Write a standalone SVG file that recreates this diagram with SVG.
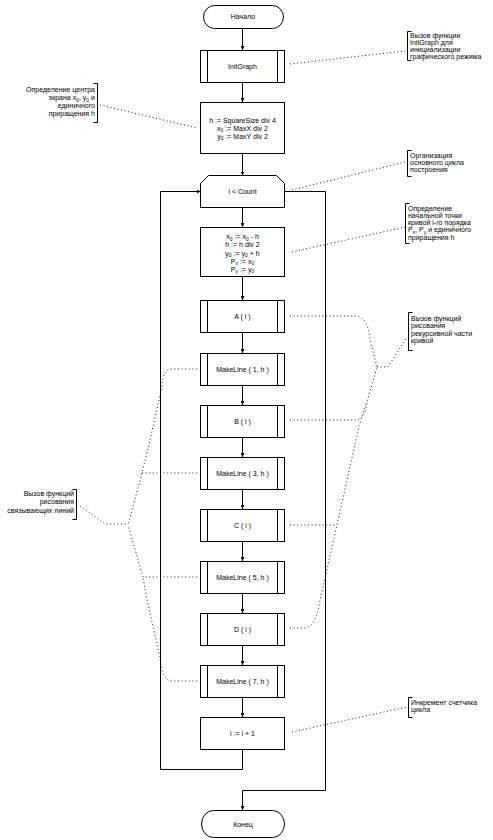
<svg xmlns="http://www.w3.org/2000/svg" width="493" height="840" viewBox="0 0 493 840">
<style>
.bg{fill:#fff}
.n{fill:#fff;stroke:#000;stroke-width:1}
.ln{fill:none;stroke:#000;stroke-width:1}
.dt{fill:none;stroke:#000;stroke-width:0.9;stroke-dasharray:1 2.6}
.br{fill:none;stroke:#000;stroke-width:1}
text{font-family:"Liberation Sans",Arial,sans-serif;font-size:7px;fill:#000}
.c{text-anchor:middle}
.e{text-anchor:end}
.s{font-size:5px}
</style>
<defs>
<marker id="ah" markerWidth="4" markerHeight="4" refX="4" refY="2" orient="auto" markerUnits="userSpaceOnUse">
<path d="M0,0 L4,2 L0,4 Z" fill="#000"/>
</marker>
</defs>
<rect class="bg" x="0" y="0" width="493" height="840"/>

<g id="connectors">
<path class="ln" marker-end="url(#ah)" d="M242.5,28 V50"/>
<path class="ln" marker-end="url(#ah)" d="M242.5,82 V102"/>
<path class="ln" marker-end="url(#ah)" d="M242.5,153 V175.5"/>
<path class="ln" marker-end="url(#ah)" d="M242.5,207.5 V227"/>
<path class="ln" marker-end="url(#ah)" d="M242.5,276 V300"/>
<path class="ln" marker-end="url(#ah)" d="M242.5,332 V353"/>
<path class="ln" marker-end="url(#ah)" d="M242.5,385 V405"/>
<path class="ln" marker-end="url(#ah)" d="M242.5,437 V457"/>
<path class="ln" marker-end="url(#ah)" d="M242.5,489 V509"/>
<path class="ln" marker-end="url(#ah)" d="M242.5,541 V561"/>
<path class="ln" marker-end="url(#ah)" d="M242.5,593 V613"/>
<path class="ln" marker-end="url(#ah)" d="M242.5,645 V665"/>
<path class="ln" marker-end="url(#ah)" d="M242.5,697 V717"/>
<path class="ln" marker-end="url(#ah)" d="M242.5,749 V769.5 H160.5 V191.5 H200.5"/>
<path class="ln" marker-end="url(#ah)" d="M284.5,191.5 H325.5 V790.5 H242.5 V810"/>
</g>

<g id="annotation-links">
<path class="dt" d="M290,64 L405,51"/>
<path class="dt" d="M100,105 L197,128"/>
<path class="dt" d="M292,190 L405,162"/>
<path class="dt" d="M292,252 L405,227"/>
<path class="dt" d="M290,316 H355 Q368,316 370,340 L377,367"/>
<path class="dt" d="M290,420 H355 Q365,420 367,402 L377,367"/>
<path class="dt" d="M290,525 H337"/>
<path class="dt" d="M290,628 H305 Q316,626 319,605 L356,440 Q360,420 367,402"/>
<path class="dt" d="M377,367 H388 L407,337"/>
<path class="dt" d="M197,369 H171 Q163,369 162,387 L150,440 L142,473 L128,525"/>
<path class="dt" d="M197,473 H142"/>
<path class="dt" d="M197,577 H143 L128,525"/>
<path class="dt" d="M197,681 H172 Q162,681 160,657 L147,600 L143,577"/>
<path class="dt" d="M80,506 L105,524 H128"/>
<path class="dt" d="M292,732 L407,707"/>
</g>

<g id="start">
<rect class="n" x="203.5" y="5.5" width="80" height="23" rx="11" ry="11.5"/>
<text class="c" x="243" y="19">Начало</text>
</g>

<g id="initgraph">
<rect class="n" x="200.5" y="50.5" width="84" height="32"/>
<path class="ln" d="M207.5,50.5 V82.5 M277.5,50.5 V82.5"/>
<text class="c" x="242.5" y="69">InitGraph</text>
</g>

<g id="init-center">
<rect class="n" x="200.5" y="102.5" width="84" height="51"/>
<text class="c" x="242.5" y="122.5">h := SquareSize div 4</text>
<text class="c" x="242.5" y="130.5">x<tspan class="s" dy="1.5">0</tspan><tspan dy="-1.5"> := MaxX div 2</tspan></text>
<text class="c" x="242.5" y="138.5">y<tspan class="s" dy="1.5">0</tspan><tspan dy="-1.5"> := MaxY div 2</tspan></text>
</g>

<g id="loop">
<path class="n" d="M200.5,183.5 L208.5,175.5 H276.5 L284.5,183.5 V207.5 H200.5 Z"/>
<text class="c" x="242.5" y="194">i &lt; Count</text>
</g>

<g id="init-start">
<rect class="n" x="200.5" y="227.5" width="84" height="49"/>
<text class="c" x="242.5" y="239">x<tspan class="s" dy="1.5">0</tspan><tspan dy="-1.5"> := x</tspan><tspan class="s" dy="1.5">0</tspan><tspan dy="-1.5"> - h</tspan></text>
<text class="c" x="242.5" y="247">h := h div 2</text>
<text class="c" x="242.5" y="255.5">y<tspan class="s" dy="1.5">0</tspan><tspan dy="-1.5"> := y</tspan><tspan class="s" dy="1.5">0</tspan><tspan dy="-1.5"> + h</tspan></text>
<text class="c" x="242.5" y="263.5">P<tspan class="s" dy="1.5">x</tspan><tspan dy="-1.5"> := x</tspan><tspan class="s" dy="1.5">0</tspan></text>
<text class="c" x="242.5" y="271.5">P<tspan class="s" dy="1.5">y</tspan><tspan dy="-1.5"> := y</tspan><tspan class="s" dy="1.5">0</tspan></text>
</g>

<g id="call-a">
<rect class="n" x="200.5" y="300.5" width="84" height="32"/>
<path class="ln" d="M207.5,300.5 V332.5 M277.5,300.5 V332.5"/>
<text class="c" x="242.5" y="319">A ( i )</text>
</g>
<g id="makeline-1">
<rect class="n" x="200.5" y="353.5" width="84" height="32"/>
<path class="ln" d="M207.5,353.5 V385.5 M277.5,353.5 V385.5"/>
<text class="c" x="242.5" y="372">MakeLine ( 1, h )</text>
</g>
<g id="call-b">
<rect class="n" x="200.5" y="405.5" width="84" height="32"/>
<path class="ln" d="M207.5,405.5 V437.5 M277.5,405.5 V437.5"/>
<text class="c" x="242.5" y="424">B ( i )</text>
</g>
<g id="makeline-3">
<rect class="n" x="200.5" y="457.5" width="84" height="32"/>
<path class="ln" d="M207.5,457.5 V489.5 M277.5,457.5 V489.5"/>
<text class="c" x="242.5" y="476">MakeLine ( 3, h )</text>
</g>
<g id="call-c">
<rect class="n" x="200.5" y="509.5" width="84" height="32"/>
<path class="ln" d="M207.5,509.5 V541.5 M277.5,509.5 V541.5"/>
<text class="c" x="242.5" y="528">C ( i )</text>
</g>
<g id="makeline-5">
<rect class="n" x="200.5" y="561.5" width="84" height="32"/>
<path class="ln" d="M207.5,561.5 V593.5 M277.5,561.5 V593.5"/>
<text class="c" x="242.5" y="580">MakeLine ( 5, h )</text>
</g>
<g id="call-d">
<rect class="n" x="200.5" y="613.5" width="84" height="32"/>
<path class="ln" d="M207.5,613.5 V645.5 M277.5,613.5 V645.5"/>
<text class="c" x="242.5" y="632">D ( i )</text>
</g>
<g id="makeline-7">
<rect class="n" x="200.5" y="665.5" width="84" height="32"/>
<path class="ln" d="M207.5,665.5 V697.5 M277.5,665.5 V697.5"/>
<text class="c" x="242.5" y="684">MakeLine ( 7, h )</text>
</g>
<g id="increment">
<rect class="n" x="200.5" y="717.5" width="84" height="32"/>
<text class="c" x="242.5" y="736">i := i + 1</text>
</g>

<g id="end">
<rect class="n" x="201.5" y="810.5" width="83" height="27" rx="12" ry="13.5"/>
<text class="c" x="243" y="826.5">Конец</text>
</g>

<g id="note-initgraph">
<path class="br" d="M411.5,31.5 H407.5 V60.5 H411.5"/>
<text x="410" y="37.5">Вызов функции</text>
<text x="410" y="44.5">InitGraph для</text>
<text x="410" y="51.5">инициализации</text>
<text x="410" y="58.5">графического режима</text>
</g>

<g id="note-center">
<path class="br" d="M93.5,83.5 H97.5 V122.5 H93.5"/>
<text class="e" x="95" y="92">Определение центра</text>
<text class="e" x="95" y="100">экрана x<tspan class="s" dy="1.5">0</tspan><tspan dy="-1.5">, y</tspan><tspan class="s" dy="1.5">0</tspan><tspan dy="-1.5"> и</tspan></text>
<text class="e" x="95" y="108">единичного</text>
<text class="e" x="95" y="116">приращения h</text>
</g>

<g id="note-loop">
<path class="br" d="M411.5,150.5 H407.5 V176.5 H411.5"/>
<text x="410" y="158">Организация</text>
<text x="410" y="165">основного цикла</text>
<text x="410" y="172">построения</text>
</g>

<g id="note-start">
<path class="br" d="M409.5,203.5 H405.5 V243.5 H409.5"/>
<text x="408" y="211">Определение</text>
<text x="408" y="218">начальной точки</text>
<text x="408" y="225">кривой i-го порядка</text>
<text x="408" y="232">P<tspan class="s" dy="1.5">x</tspan><tspan dy="-1.5">, P</tspan><tspan class="s" dy="1.5">y</tspan><tspan dy="-1.5"> и единичного</tspan></text>
<text x="408" y="240">приращения h</text>
</g>

<g id="note-recursive">
<path class="br" d="M412.5,312.5 H408.5 V350.5 H412.5"/>
<text x="411" y="320.5">Вызов функций</text>
<text x="411" y="328">рисования</text>
<text x="411" y="335.5">рекурсивной части</text>
<text x="411" y="343">кривой</text>
</g>

<g id="note-lines">
<path class="br" d="M72.5,489.5 H76.5 V519.5 H72.5"/>
<text class="e" x="74" y="496">Вызов функций</text>
<text class="e" x="74" y="504">рисования</text>
<text class="e" x="74" y="513">связывающих линий</text>
</g>

<g id="note-increment">
<path class="br" d="M412.5,697.5 H408.5 V717.5 H412.5"/>
<text x="411" y="704.5">Инкремент счетчика</text>
<text x="411" y="711.5">цикла</text>
</g>
</svg>
